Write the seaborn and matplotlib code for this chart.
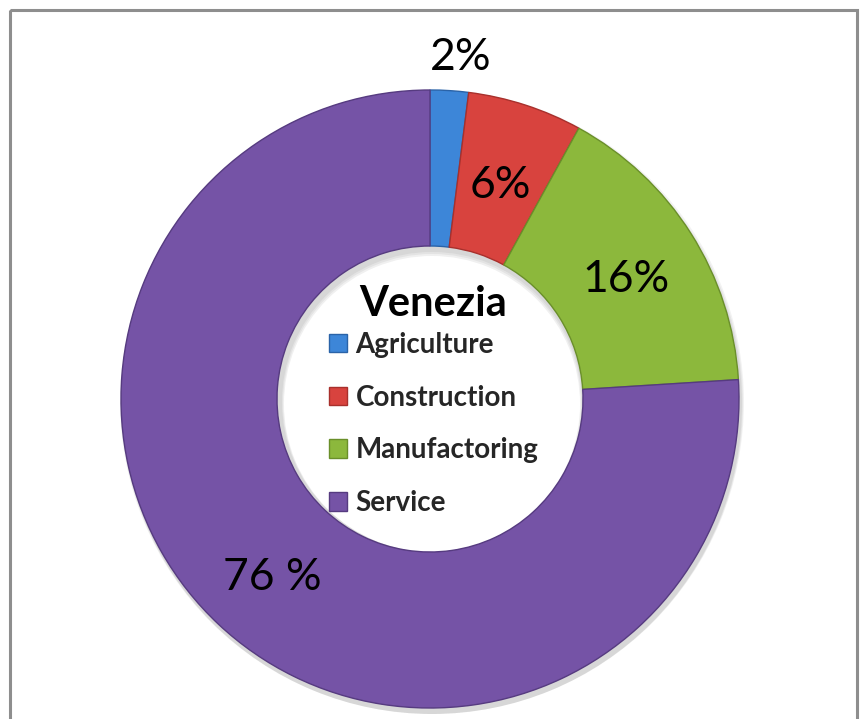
import matplotlib
matplotlib.use("Agg")
import matplotlib.pyplot as plt
from matplotlib.patches import Rectangle, Wedge
import seaborn as sns

# Employment share by sector, Venezia
sectors = ["Agriculture", "Construction", "Manufactoring", "Service"]
shares = [2, 6, 16, 76]
share_labels = ["2%", "6%", "16%", "76 %"]
sector_colors = ["#3d86d8", "#d8433e", "#8cb83c", "#7553a6"]
edge_colors = ["#2a63a8", "#a8302c", "#6a8f2a", "#563b80"]
chart_title = "Venezia"

sns.set_theme(style="white")
plt.rcParams["font.family"] = ["Lato", "DejaVu Sans"]

W, H = 865, 719
fig = plt.figure(figsize=(W / 100, H / 100), dpi=100)
ax = fig.add_axes([0, 0, 1, 1])

cx, cy = 430, 399          # ring centre (pixel space, y downwards)
r_out, r_in = 309, 153

# soft drop shadow behind the ring
for k, a in enumerate([0.05, 0.05, 0.06]):
    ax.add_patch(Wedge((cx + 2, cy + 3 + k), r_out + 3 - k, 0, 360,
                       width=r_out - r_in + 6, facecolor="#000000",
                       alpha=a, lw=0, zorder=1))

palette = sns.color_palette(sector_colors)
wedges, _ = ax.pie(shares, colors=palette, startangle=-90, counterclock=True,
                   center=(cx, cy), radius=r_out,
                   wedgeprops=dict(width=r_out - r_in, linewidth=1.0),
                   frame=True)
for w, ec in zip(wedges, edge_colors):
    w.set_edgecolor(ec)
    w.set_zorder(2)

# percentage labels
label_pos = [(461, 57), (500, 186), (626, 279), (272, 577)]
for txt, (x, y) in zip(share_labels, label_pos):
    ax.text(x, y, txt, ha="center", va="center", fontsize=32,
            color="black", zorder=5)

# title and legend in the hole of the ring
ax.text(433, 304, chart_title, ha="center", va="center", fontsize=30,
        fontweight="bold", color="black", zorder=6)
leg = ax.legend(wedges, sectors, loc="center left",
                bbox_to_anchor=(329, 424), bbox_transform=ax.transData,
                frameon=False,
                prop=dict(size=20, weight="bold"),
                handlelength=0.65, handleheight=0.65, handletextpad=0.3,
                labelspacing=0.97, borderpad=0, borderaxespad=0)
leg.set_zorder(6)

# outer frame
ax.add_patch(Rectangle((9.5, 9.5), 847, 760, fill=False,
                       edgecolor="#8e8e8e", lw=2.2, zorder=7))

ax.set_xlim(0, W)
ax.set_ylim(H, 0)
ax.set_aspect("equal")
ax.axis("off")

fig.savefig("out.png", dpi=100, facecolor="white")
